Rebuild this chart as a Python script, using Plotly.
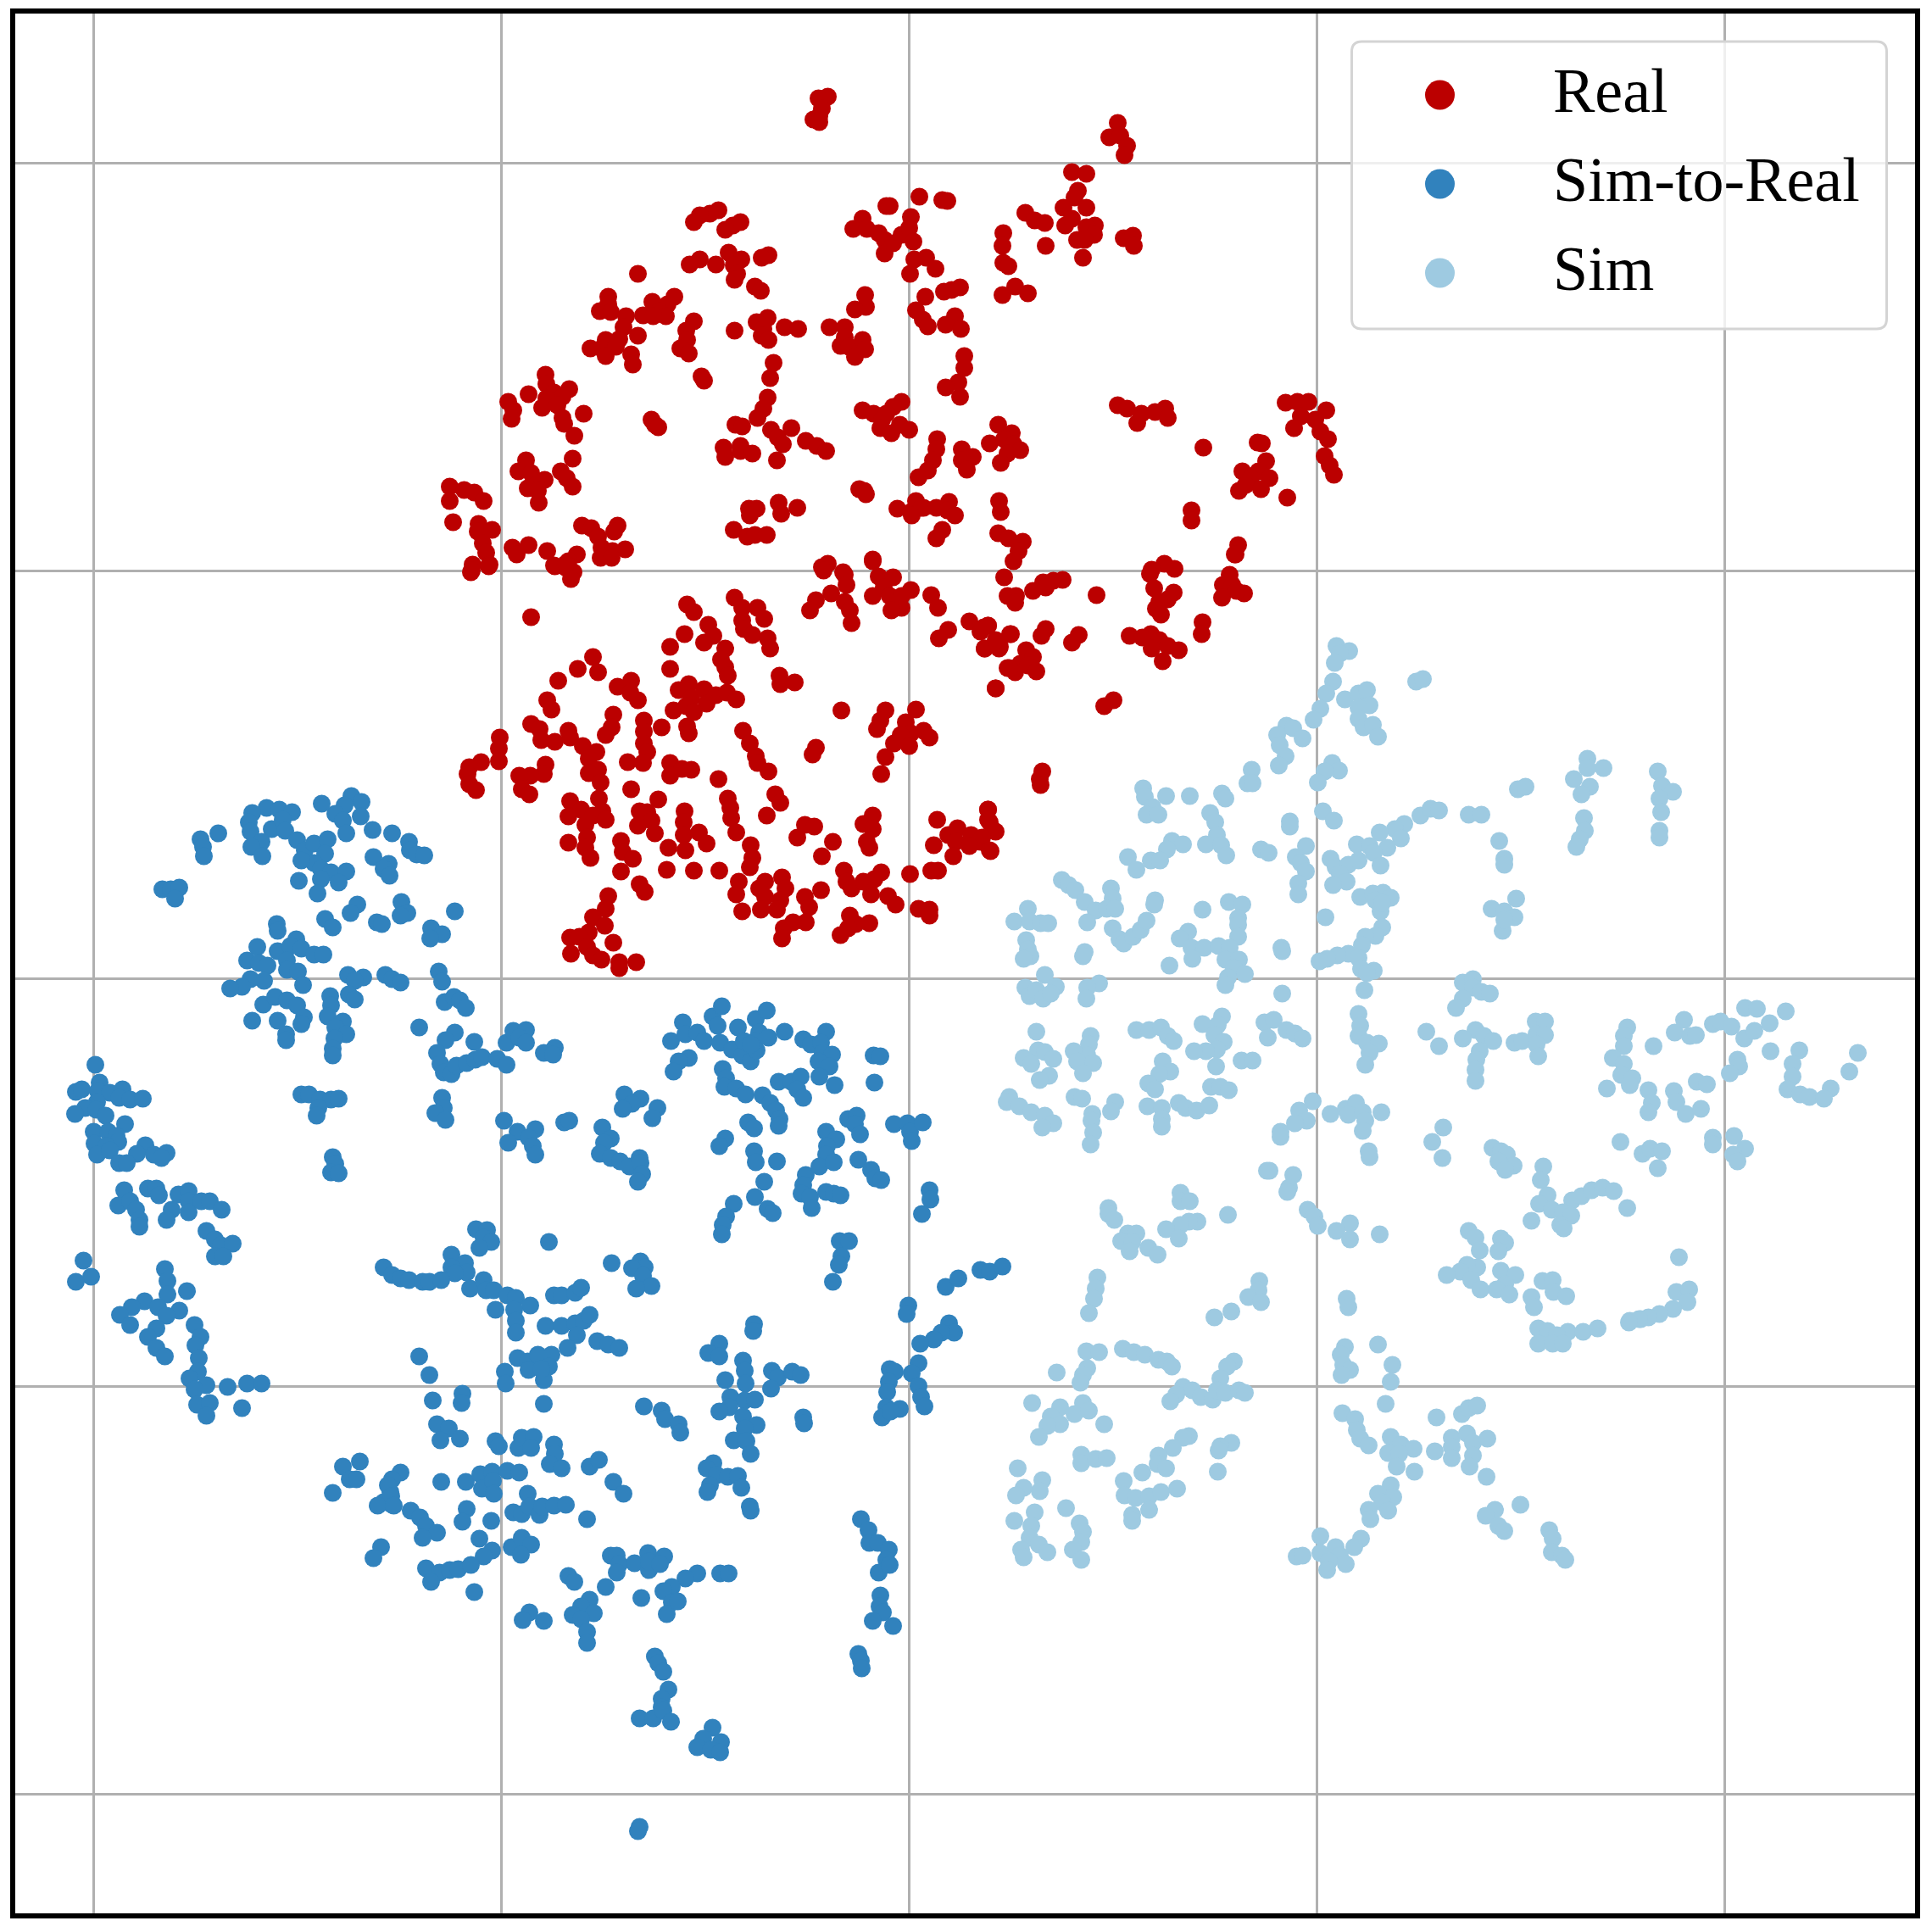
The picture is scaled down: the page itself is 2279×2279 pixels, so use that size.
import plotly.graph_objects as go

# embedding coordinates, grid step is 481 units
real_points = [
    (-96,1040),(-107,1038),(-103,1026),(-106,1017),(-113,1013),(-106,1010),
    (-225,906),(-235,902),(-247,900),(-254,892),(-199,892),(-208,888),(-217,883),(-247,848),(-259,842),
    (-213,856),(-198,848),(-228,842),(-207,841),(-203,831),(-206,824),(-166,853),(-174,850),(-182,816),(-175,811),(-320,831),
    (-355,804),(-355,795),(-365,787),(-352,786),(-303,798),(-277,804),(-285,795),(-295,787),(-287,781),(-314,782),(-302,781),
    (-334,781),(-337,768),(-342,754),(-320,758),(-358,753),(-376,743),(-363,743),(-346,745),(-358,734),(-328,736),(-326,724),
    (-254,775),(-263,764),(-262,753),(-270,743),(-260,737),(-245,710),(-242,705),(-206,764),(-167,779),(-180,774),(-172,766),
    (-174,758),(-166,753),(-147,768),(-131,766),(-160,726),(-164,708),(-167,685),(-172,672),(-179,661),(-205,653),(-197,651),
    (-199,628),(-219,626),(-217,615),(-199,622),(-185,619),(-163,647),(-155,638),(-149,630),(-139,649),(-122,634),(-109,628),
    (-98,622),(-156,611),(-94,768),(-76,768),(-76,756),(-81,746),(-71,745),(-64,733),(-55,753),(-52,742),(-52,806),(-51,792),
    (-64,789),(-27,911),(-23,911),(-55,896),(-66,884),(-50,884),(-36,879),(-29,871),(-29,855),(-19,867),(-9,877),(2,898),
    (0,885),(5,869),(12,922),(39,918),(45,917),(6,848),(1,831),(20,850),(31,837),(19,804),(41,810),(60,815),(50,812),(8,788),
    (16,777),(22,769),(54,781),(43,771),(61,766),(65,734),(65,720),(58,703),(43,697),(60,686),(111,879),(110,864),(111,844),
    (117,840),(110,806),(125,816),(140,808),(137,903),(148,894),(160,891),(161,864),(192,951),(209,949),(199,929),(195,921),
    (182,909),(209,909),(184,888),(192,896),(219,888),(209,886),(218,877),(198,871),(207,871),(205,850),(253,873),(264,876),
    (265,864),(246,1009),(236,992),(249,994),(257,982),(254,971),
    (-429,712),(-428,701),(-449,689),(-401,695),(-419,691),(-409,686),(-428,684),(-433,673),(-415,676),(-473,680),(-467,670),
    (-469,660),(-384,666),(-409,661),(-407,654),(-395,640),(-452,611),(-461,598),(-446,596),(-430,588),(-440,582),(-450,578),
    (-438,575),(-437,561),(-397,613),(-411,598),(-404,590),(-397,580),(-542,580),(-542,563),(-525,576),(-513,573),(-502,563),
    (-538,538),(-508,536),(-509,527),(-492,529),(-503,513),(-499,502),(-515,488),(-517,479),(-495,488),(-468,508),(-463,500),
    (-449,511),(-427,504),(-392,500),(-402,492),(-419,487),(-406,485),(-396,479),(-386,534),(-375,531),(-367,521),(-344,534),
    (-348,527),(-363,508),(-335,506),(-350,504),(-364,496),(-351,496),(-189,554),(-180,554),(-188,546),(-154,561),(-132,555),
    (-151,548),(-207,529),(-191,521),(-182,523),(-168,523),(-103,485),(-78,479),(-96,489),(-516,481),(-496,486),(-418,486),
    (-399,471),(-405,489),(-300,653),(-304,659),(-296,650),
    (-55,670),(-42,666),(-32,659),(-9,680),(-19,674),(-27,666),(-34,649),(-21,643),(-11,653),(0,647),(-53,575),(-59,577),(-51,571),
    (-14,554),(2,550),(8,563),(17,555),(14,555),(3,546),(32,555),(47,562),(45,552),(54,546),(39,529),(32,519),(-43,494),
    (33,636),(32,624),(28,611),(22,599),(11,591),(62,624),(75,615),(62,611),(68,600),(105,653),(121,643),(95,631),(112,636),
    (123,630),(131,623),(116,619),(108,608),(106,563),(108,550),(105,525),(117,519),(134,515),(129,504),(123,492),
    (246,676),(257,672),(269,655),(274,666),(290,668),(302,672),(305,661),(347,626),(411,632),(416,631),(421,610),(412,598),
    (393,598),(403,590),(425,590),(389,575),(397,582),(415,577),(446,567),(333,552),(333,540),(444,679),(458,680),(471,680),
    (492,670),(462,663),(454,649),(479,659),(485,645),(494,636),(490,616),(496,605),(501,594),(388,511),(385,500),
    (112,473),(116,451),(126,451),(125,443),(146,457),(158,467),(170,469),(181,470),(161,461),(221,452),(313,483),(301,489),
    (286,482),(284,477),(289,460),(312,455),(305,447),(295,444),(291,436),(297,429),(384,500),(378,476),(370,464),(381,464),
    (369,449),(395,454),(386,457),(346,420),(345,406),(88,414),(93,416),(120,406),(105,397),(106,389),(89,389),(161,412),
    (156,404),(200,405),(192,396),(260,404),(285,406),(275,402),(295,399),(286,389),(305,392),(318,387),(299,374),(138,387),
    (146,379),(131,371),(116,366),(125,361),(140,369),(150,362),(102,342),(241,328),(230,321),(157,244),(154,235),(155,228),
    (93,199),(95,184),(100,174),(84,161),(96,150),
    (-446,426),(-262,441),(-254,432),(-206,449),(-197,437),(-197,422),(-195,412),(-185,405),(-179,437),(-171,424),(-237,417),
    (-231,404),(-242,396),(-265,406),(-282,391),(-217,389),(-222,376),(-217,367),(-214,357),(-167,401),(-164,389),(-282,365),
    (-373,379),(-391,365),(-367,361),(-414,351),(-344,344),(-328,351),(-329,337),(-320,328),(-427,328),(-422,317),(-446,300),
    (-436,294),(-434,281),(-418,279),(-402,292),(-400,284),(-385,274),(-369,267),(-378,259),(-349,311),(-351,296),(-358,287),
    (-313,304),(-313,291),(-313,277),(-309,267),(-314,254),(-332,255),(-292,296),(-260,347),(-272,340),(-257,331),(-242,341),
    (-239,324),(-263,321),(-278,316),(-254,314),(-228,334),(-215,337),(-204,329),(-262,297),(-260,289),(-196,292),(-188,277),
    (-181,262),(-179,254),(-166,244),(-153,357),(-152,347),(-135,349),(-80,316),(-28,316),(-34,304),(-38,294),(8,317),(-4,302),
    (2,289),(-18,277),(-10,287),(0,274),(17,292),(24,284),(-110,272),(-114,264),(-28,261),(-33,241),(-483,284),(-484,271),
    (-484,256),(-505,255),(-519,249),(-521,241),(-519,229),(-511,222),(-429,252),(-431,241),(-447,239),(-460,239),(-457,223),
    (-448,217),(-367,246),(-378,242),(-364,231),(-366,212),(-282,254),(-282,239),(-268,247),(-257,246),(-225,235),(-328,223),
    (-400,209),(-387,199),(-402,191),(-382,181),(-373,192),(-362,197),(-358,187),(-380,166),(-402,160),(-382,154),(-376,142),
    (-296,211),(-309,196),(-318,197),(-304,186),(-320,180),(-300,171),(-265,197),(-266,184),(-266,169),(-248,172),(-239,159),
    (-264,151),(-284,154),(-214,212),(-211,201),(-210,189),(-204,172),(-158,217),(-152,207),(-168,192),(-340,162),(-338,149),
    (-326,141),(-340,126),(-286,128),(-254,127),(-224,127),(-187,157),(-185,142),(-188,131),(-318,111),(-312,102),(-123,181),
    (-112,179),(-132,166),(-90,161),(-103,144),(-54,182),(-43,192),(-43,176),(-50,161),(-47,154),(-201,114),(-204,99),(-197,79),
    (-170,114),(-177,106),(-170,96),(-175,81),(-150,119),(-146,106),(-152,92),(-156,81),(-104,104),(-123,96),(-118,84),(-122,66),
    (-137,66),(-148,59),(-150,47),(-77,127),(-74,114),(-68,106),(-45,99),(-54,114),(-41,117),(-33,125),(-25,97),(-16,87),(1,123),
    (26,127),(34,127),(11,82),(24,81),(24,74),(-70,74),(-47,65),(-63,64),(-72,59),(-81,51),(93,199),(93,187),(102,173),(33,187),
    (29,157),(46,169),(57,177),(55,161),(52,144),(73,169),(86,166),(71,156),(95,151),
    (-355,97),(-358,82),(-373,72),(-359,62),(-378,54),(-400,48),(-389,49),(-349,42),(-380,37),(-399,29),(-373,27),(-363,22),
    (-342,19),(-342,12),(-322,19),
    (-101,481),(-76,476),(-74,464),(-92,454),(-110,446),(-117,434),(-76,444),(-70,434),(-68,419),(-36,474),(-19,473),(-43,451),
    (-30,461),(-23,451),(2,458),(-9,437),(-21,434),(-9,451),(-43,492),(26,452),(34,437),(46,411),(35,401),(71,421),(84,409),
    (93,416),(89,389),(107,391),(102,399),(119,406),(118,366),(102,342),
]

sim_to_real_points = [
    (-658,215),(-646,208),(-666,204),(-677,194),(-668,186),(-647,191),(-664,171),(-693,206),(-633,175),(-610,171),(-590,161),
    (-589,151),(-581,146),(-572,145),(-632,143),(-614,135),(-620,129),(-613,121),(-758,201),(-743,199),(-728,196),(-775,195),
    (-779,184),(-777,173),(-752,176),(-739,187),(-736,174),(-722,163),(-713,151),(-702,159),(-686,164),(-689,147),(-702,136),
    (-717,139),(-694,129),(-682,125),(-664,126),(-673,113),(-694,117),(-698,100),(-720,115),(-764,161),(-776,155),(-763,144),
    (-815,171),(-836,164),(-833,155),(-832,144),(-881,105),(-871,105),(-861,107),(-866,94),(-651,87),(-659,77),(-689,70),(-680,60),
    (-599,90),(-592,77),(-600,74),(-628,66),(-622,64),(-536,79),(-564,59),(-551,52),(-565,47),(-746,64),(-745,56),(-769,37),
    (-723,46),(-745,32),(-730,38),(-717,35),(-702,28),(-691,28),(-734,21),(-781,21),(-767,18),(-757,15),(-734,10),(-721,8),
    (-662,4),(-644,1),(-654,-3),(-618,4),(-610,-1),(-600,-5),(-555,8),(-551,-4),(-761,-3),(-777,-1),(-787,-10),(-801,-12),(-715,-8),
    (-661,-19),(-654,-25),(-683,-21),(-682,-32),(-762,-31),(-748,-22),(-734,-26),(-722,-32),(-714,-46),(-717,-54),(-686,-45),
    (-668,-51),(-677,-58),(-664,-66),(-678,-71),(-680,-83),(-680,-91),(-775,-50),(-745,-50),(-735,-66),(-735,-73),(-578,-58),
    (-548,-28),(-537,-22),(-530,-26),(-523,-35),(-536,-64),(-547,-73),(-557,-88),(-553,-101),(-549,-111),(-540,-113),(-534,-103),
    (-522,-100),(-512,-96),(-504,-93),(-513,-75),(-486,-95),(-475,-102),(-475,-76),(-467,-62),(-452,-61),(-460,-70),(-452,-76),
    (-431,-88),(-418,-82),(-420,-90),(-717,-137),(-708,-137),(-695,-143),(-682,-143),(-673,-142),(-697,-153),(-699,-162),
    (-680,-211),(-677,-219),(-682,-229),(-673,-230),(-551,-141),(-549,-153),(-559,-159),(-547,-167),
    (-960,-102),(-955,-123),(-983,-134),(-976,-131),(-957,-133),(-943,-135),(-928,-131),(-932,-141),(-919,-143),(-904,-142),
    (-958,-146),(-972,-153),(-984,-160),(-959,-155),(-948,-162),(-962,-181),(-945,-181),(-925,-172),(-935,-186),(-933,-193),
    (-961,-195),(-947,-198),(-958,-208),(-943,-203),(-901,-197),(-911,-207),(-891,-208),(-876,-206),(-882,-212),(-932,-218),
    (-923,-218),(-926,-250),(-898,-248),(-888,-248),(-885,-256),(-933,-268),(-919,-263),(-912,-273),(-908,-285),(-908,-293),
    (-870,-273),(-876,-285),(-862,-255),(-850,-251),(-850,-263),(-850,-276),(-835,-263),(-825,-263),(-811,-273),(-829,-298),
    (-819,-308),(-812,-315),(-798,-313),(-819,-328),(-809,-328),(-974,-333),(-965,-352),(-983,-358),(-878,-343),(-875,-357),
    (-852,-369),(-875,-373),(-902,-381),(-917,-388),(-886,-388),(-861,-392),(-876,-398),(-931,-397),(-919,-409),(-888,-413),
    (-898,-423),(-888,-436),(-878,-446),(-843,-409),(-836,-423),(-842,-433),(-838,-448),(-839,-464),(-849,-472),(-829,-480),
    (-843,-485),(-804,-482),(-781,-478),(-764,-478),(-787,-507),(-840,-503),(-825,-501),(-829,-516),
    (-478,-168),(-462,-181),(-473,-194),(-441,-178),(-449,-188),(-444,-198),(-441,-208),(-407,-170),(-401,-168),(-336,-137),
    (-317,-142),(-327,-148),(-338,-154),(-297,-153),(-303,-165),(-362,-176),(-352,-189),(-360,-194),(-365,-207),(-352,-212),
    (-341,-216),(-330,-222),(-318,-212),(-317,-218),(-315,-231),(-320,-240),(-281,-74),(-267,-52),(-264,-66),(-250,-64),(-242,-74),
    (-232,-45),(-221,-33),(-226,-56),(-223,-76),(-209,-84),(-202,-58),(-197,-91),(-195,-74),(-187,-98),(-180,-85),(-181,-48),
    (-168,-38),(-177,-64),(-182,-74),(-166,-70),(-147,-63),(-187,-78),(-260,-94),(-272,-98),(-278,-110),(-125,-72),(-116,-78),
    (-98,-63),(-104,-76),(-102,-88),(-91,-90),(-107,-98),(-94,-104),(-106,-116),(-88,-126),(-42,-91),(-34,-92),(-41,-123),(-220,-107),
    (-216,-118),(-218,-128),(-204,-130),(-193,-137),(-154,-122),(-139,-122),(-128,-116),(-132,-131),(-125,-141),(-173,-138),
    (-164,-147),(-157,-156),(-153,-166),(-154,-174),(-190,-170),(-183,-177),(-217,-189),(-224,-198),(-183,-204),(-181,-217),
    (-156,-216),(-171,-240),(-182,-258),(-167,-272),(-161,-277),(-207,-266),(-216,-281),(-220,-291),(-221,-302),(-122,-232),
    (-125,-244),(-127,-254),(-117,-258),(-115,-271),(-98,-252),(-89,-254),(-81,-256),(-72,-166),(-62,-162),(-64,-172),(-58,-184),
    (-98,-181),(-86,-190),(-97,-198),(-98,-208),(-106,-222),(-89,-217),(-60,-214),(-45,-226),(-40,-236),(-33,-238),(-18,-172),
    (-2,-171),(1,-181),(3,-192),(16,-170),(24,-250),(25,-261),(15,-278),
    (-511,-296),(-498,-297),(-502,-306),(-493,-311),(-507,-318),(-425,-311),(-540,-326),(-524,-336),(-540,-341),(-522,-347),
    (-536,-348),(-620,-341),(-610,-350),(-600,-354),(-590,-356),(-574,-358),(-566,-358),(-552,-356),(-518,-366),(-502,-356),
    (-499,-368),(-490,-368),(-474,-374),(-488,-391),(-464,-377),(-447,-386),(-466,-391),(-464,-404),(-464,-418),(-419,-374),
    (-410,-374),(-394,-371),(-387,-365),(-429,-410),(-410,-410),(-394,-407),(-384,-404),(-377,-397),(-392,-421),(-403,-436),
    (-368,-428),(-355,-432),(-342,-436),(-462,-448),(-450,-452),(-449,-462),(-438,-444),(-422,-444),(-425,-458),(-431,-474),
    (-434,-461),(-477,-464),(-476,-478),(-431,-502),(-578,-446),(-566,-468),(-562,-498),(-527,-490),(-528,-501),(-557,-526),
    (-543,-531),(-553,-545),(-530,-543),(-488,-546),(-484,-552),(-461,-554),(-457,-542),(-443,-541),(-446,-554),(-419,-550),
    (-418,-561),(-424,-573),(-410,-578),(-600,-583),(-610,-591),(-612,-606),(-610,-621),(-620,-618),(-552,-594),(-523,-594),
    (-506,-585),(-492,-582),(-504,-602),(-491,-593),(-490,-608),(-474,-581),(-460,-583),(-450,-608),(-467,-630),(-457,-632),
    (-448,-623),(-436,-633),(-433,-623),(-419,-622),(-405,-621),(-380,-638),(-522,-626),(-527,-641),(-493,-640),(-588,-628),
    (-577,-636),(-570,-646),(-557,-654),(-574,-660),(-507,-661),(-492,-675),(-502,-682),(-469,-671),(-457,-660),(-446,-668),
    (-458,-680),(-570,-696),(-554,-701),(-564,-712),(-542,-698),(-532,-697),(-517,-692),(-513,-724),
    (-351,-336),(-317,-334),(-312,-341),(-327,-342),(-314,-351),(-304,-363),(-322,-366),(-183,-408),(-184,-416),(-224,-431),
    (-237,-442),(-224,-446),(-196,-451),(-194,-463),(-193,-478),(-217,-474),(-162,-463),(-155,-471),(-163,-484),(-138,-464),
    (-128,-468),(-211,-494),(-194,-498),(-182,-497),(-212,-506),(-224,-511),(-196,-517),(-180,-527),(-194,-531),(-207,-545),
    (-192,-546),(-187,-561),(-125,-518),(-124,-525),(-313,-505),(-292,-510),(-288,-520),(-272,-526),(-270,-536),(-377,-576),
    (-366,-568),(-349,-594),(-337,-608),(-231,-572),(-239,-578),(-227,-586),(-214,-588),(-202,-587),(-198,-601),(-235,-598),
    (-238,-606),(-188,-623),(-187,-628),(-82,-310),(-71,-310),(-80,-328),(-83,-338),(-90,-358),(-1,-386),(-3,-396),(43,-364),
    (58,-354),(84,-344),(95,-346),(110,-340),(47,-407),(53,-418),(38,-418),(29,-426),(13,-431),(11,-454),(3,-466),(11,-481),
    (14,-494),(18,-505),(-23,-461),(-17,-464),(-24,-476),(-26,-488),(-27,-506),(-11,-508),(-32,-518),(-22,-511),(-57,-638),
    (-48,-651),(-47,-666),(-37,-666),(-24,-674),(-27,-686),(-36,-701),(-23,-692),(-34,-728),(-35,-741),(-31,-748),(-43,-758),(-19,-764),
    (-352,-681),(-345,-681),(-342,-691),(-345,-701),(-324,-690),(-308,-678),(-307,-698),(-307,-688),(-289,-682),(-294,-691),
    (-250,-702),(-223,-702),(-213,-702),(-264,-708),(-280,-718),(-290,-723),(-280,-736),(-286,-750),(-273,-735),(-316,-731),
    (-358,-718),(-402,-705),(-395,-712),(-377,-733),(-387,-741),(-397,-751),(-372,-749),(-387,-756),(-448,-748),(-456,-757),
    (-431,-758),(-380,-771),(-380,-784),(-60,-797),(-57,-805),(-56,-814),(-300,-800),(-296,-808),(-290,-818),(-284,-839),(-292,-850),
    (-292,-860),(-318,-873),(-302,-873),(-290,-864),(-281,-877),(-232,-884),(-222,-901),(-243,-897),(-250,-907),(-234,-910),
    (-223,-913),(-318,-1001),(-320,-1006),(-648,-570),(-668,-576),(-660,-591),(-652,-591),(-680,-607),(-615,-598),(-611,-611),
    (-627,-622),(-608,-622),(-623,-671),(-632,-684),
]

sim_points = [
    (504,392),(519,386),(508,383),(502,372),(500,350),(492,336),(485,318),(477,305),(514,329),(530,336),(540,340),(543,322),
    (530,319),(530,306),(536,296),(547,299),(553,285),(598,350),(606,353),(445,298),(453,295),(434,287),(437,275),(464,283),
    (444,262),(436,251),(499,254),(507,245),(490,244),(482,231),(404,246),(399,230),(405,230),(276,224),(278,214),(303,215),
    (331,215),(369,218),(373,212),(287,202),(280,193),(294,193),(355,195),(361,184),(363,169),(350,158),(368,157),(374,145),
    (449,185),(449,179),(488,197),(501,186),(603,192),(615,200),(625,198),(584,182),(573,176),(580,165),(555,172),(528,158),
    (543,156),(564,154),(548,148),(556,133),(310,162),(323,158),(304,152),(258,143),(268,128),(285,139),(296,139),(415,152),
    (424,148),(468,156),(456,143),(462,136),(468,126),(459,112),(459,99),(497,141),(503,131),(518,134),(530,139),(508,123),
    (516,114),(500,110),(532,96),(547,100),(559,101),(568,95),(550,92),(556,79),(558,89),(491,72),(180,116),(188,110),(196,104),
    (238,106),(240,94),(207,90),(220,80),(233,82),(243,82),(210,66),(290,92),(289,87),(346,81),(377,90),(393,87),(388,71),(388,63),
    (388,49),(140,82),(124,67),(142,67),(155,65),(164,65),(138,45),(140,34),(143,26),(135,23),(207,31),(205,26),(240,59),(248,46),
    (253,41),(264,49),(273,57),(280,68),(329,55),(319,47),(333,36),(348,36),(365,38),(378,36),(334,23),(307,15),(373,22),(389,22),
    (383,12),(396,5),(376,1),(373,-8),(439,36),(440,32),(558,60),(550,50),(538,49),(534,39),(518,29),(505,27),(493,23),(484,20),
    (530,24),(533,11),(548,9),(540,6),(537,-14),(160,4),(173,-10),(137,-11),(142,-21),(150,-14),(158,-24),(167,-18),(224,-6),
    (210,-11),(209,-24),(440,-18),(150,-63),(268,-61),(283,-61),(297,-58),(305,-68),(312,-74),(369,-45),(364,-55),(346,-54),
    (360,-67),(371,-75),(363,-84),(350,-86),(336,-86),(419,-52),(430,-49),(423,-70),(445,-61),(455,-65),(464,-71),(530,-42),
    (532,-56),(530,-68),(540,-76),(554,-77),(543,-88),(538,-102),(214,-68),(212,-78),(210,-91),(194,-86),(198,-98),(217,-100),
    (205,-112),(152,-85),(135,-94),(144,-101),(160,-87),(170,-95),(165,-115),(154,-120),(392,-97),(405,-97),(362,-104),(299,-98),
    (308,-110),(295,-113),(282,-124),(290,-131),(356,-128),(367,-128),(377,-132),(118,-140),(115,-146),(130,-151),(144,-158),
    (160,-162),(170,-171),(157,-176),(195,-140),(204,-142),(243,-146),(238,-157),(216,-160),(215,-168),(217,-182),(214,-196),
    (281,-151),(298,-153),(298,-166),(298,-175),(318,-147),(326,-153),(339,-156),(354,-150),(476,-145),(460,-156),(469,-168),
    (455,-171),(438,-181),(438,-187),(497,-160),(515,-154),(527,-147),(518,-161),(535,-158),(557,-158),(538,-168),(535,-180),
    (542,-204),(543,-211),(630,-176),(617,-193),(629,-212),(610,-63),(625,-80),(653,-5),(665,-1),(665,-11),(653,-24),(645,-35),
    (675,-16),(685,-18),(668,-61),(653,-71),(678,-68),(689,-74),(673,-86),(669,-96),(668,-108),(668,-121),(714,-76),(723,-74),
    (739,-51),(750,-51),(740,-66),(750,-67),(740,-78),(742,-92),(696,162),(702,141),(702,134),(660,193),(675,193),(718,223),
    (727,226),(800,259),(800,248),(819,248),(784,235),(803,226),(793,217),(796,189),(797,174),(791,164),(787,155),(716,94),
    (687,82),(702,79),(714,72),(700,56),(702,69),(688,-200),(698,-204),(705,-208),(695,-216),(713,-221),(703,-226),(748,-222),
    (745,-238),(753,-256),(743,-266),(782,-262),(793,-257),(805,-250),(818,-247),(831,-251),(847,-271),(758,-273),(771,-276),
    (781,-280),(734,-286),(768,-291),(772,-295),(839,-193),(847,-58),(843,-68),(843,-80),(830,-94),(843,-101),(840,-114),(853,-118),
    (823,-130),(850,-126),
    (422,-227),(425,-227),(453,-232),(448,-247),(446,-252),(320,-253),(320,-263),(331,-263),(235,-271),(235,-278),(242,-285),
    (376,-279),(470,-273),(478,-281),(482,-292),(520,-289),(504,-298),(520,-308),(555,-302),(340,-287),(330,-287),(320,-291),
    (303,-296),(318,-307),(258,-301),(268,-301),(250,-310),(263,-311),(260,-322),(282,-318),(293,-326),(222,-353),(220,-366),
    (218,-378),(212,-395),(413,-357),(412,-368),(400,-376),(415,-382),(380,-393),(360,-400),(660,-298),(668,-306),(673,-321),
    (670,-341),(658,-338),(650,-346),(634,-350),(663,-356),(674,-367),(698,-307),(703,-312),(695,-322),(698,-345),(715,-350),
    (703,-361),(693,-367),(708,-373),(747,-357),(759,-356),(760,-370),(775,-375),(734,-376),(737,-388),(516,-378),(518,-388),
    (742,-413),(753,-416),(777,-417),(764,-421),(795,-417),(812,-413),(742,-431),(759,-431),(771,-431),(850,-404),(863,-402),
    (209,-440),(224,-441),(210,-460),(205,-468),(202,-477),(174,-465),(252,-437),(265,-441),(278,-444),(294,-450),(304,-452),
    (310,-458),(383,-452),(375,-458),(367,-472),(323,-482),(334,-486),(315,-491),(308,-499),(344,-494),(358,-497),(363,-486),
    (373,-489),(389,-486),(396,-489),(145,-501),(178,-506),(205,-501),(195,-514),(212,-510),(167,-517),(178,-526),(163,-528),
    (153,-541),(230,-526),(330,-540),(323,-542),(311,-554),(294,-563),(293,-573),(303,-578),(275,-583),(203,-562),(203,-572),
    (220,-567),(233,-566),(380,-548),(367,-552),(365,-557),(364,-582),(128,-578),(157,-592),(154,-605),(135,-601),(126,-610),
    (253,-593),(254,-610),(267,-613),(283,-611),(297,-606),(316,-602),(283,-627),(263,-633),(263,-640),(185,-625),(148,-630),
    (124,-640),(144,-646),(201,-643),(205,-653),(203,-665),(142,-660),(153,-668),(163,-677),(132,-674),(135,-683),(193,-674),(203,-686),
    (514,-435),(509,-444),(512,-456),(520,-462),(510,-468),(553,-432),(570,-456),(568,-476),(562,-502),(511,-513),(526,-520),
    (528,-533),(532,-543),(542,-551),(568,-541),(580,-550),(595,-555),(565,-560),(578,-561),(575,-576),(596,-582),(620,-558),
    (622,-518),(652,-514),(660,-507),(670,-504),(640,-542),(640,-553),(640,-566),(658,-537),(665,-548),(665,-563),(661,-576),
    (682,-543),(681,-588),(568,-598),(553,-608),(571,-612),(558,-618),(542,-627),(565,-628),(544,-638),(533,-661),(525,-671),
    (485,-658),(485,-678),(503,-671),(508,-681),(515,-691),(495,-688),(493,-698),(457,-682),(464,-681),(691,-627),(680,-634),
    (695,-646),(702,-652),(721,-621),(755,-651),(759,-661),(758,-677),(770,-681),(774,-686),
    (883,244),(888,227),(901,220),(885,212),(887,196),(885,174),(885,166),(878,-80),(872,-132),(902,-133),(905,-146),(876,-147),
    (872,-158),(916,-160),(934,-154),(929,-122),(941,-125),(903,-64),(914,-49),(921,-68),(928,-67),(948,-54),(957,-51),(970,-57),
    (985,-71),(997,-62),(986,-35),(1000,-36),(1015,-53),(1034,-39),(1016,-86),(977,-96),(979,-104),(968,-112),(1050,-85),(1042,-101),
    (1042,-116),(1036,-131),(1051,-137),(1062,-140),(1087,-130),(1079,-142),(1119,-88),(1109,-110),(948,-188),(948,-196),(973,-186),
    (986,-201),(972,-208),(977,-216),(865,-207),(874,-201),(888,-204),(883,-224),(908,-329),(905,-370),(920,-367),(918,-382),
    (901,-390),(885,-396),(872,-400),(861,-402),(849,-406),
]

series_names = ["Real", "Sim-to-Real", "Sim"]
series_colors = ["#bb0000", "#3182bd", "#9ecae1"]
series_points = [real_points, sim_to_real_points, sim_points]

fig = go.Figure()
for name, color, points in zip(series_names, series_colors, series_points):
    fig.add_trace(go.Scatter(x=[p[0] for p in points], y=[p[1] for p in points], mode="markers", name=name,
                             marker=dict(color=color, size=21, line=dict(width=0))))

# legend is drawn by hand, plotly caps legend markers well below this size
box_path = "M 534 1105 L 1141 1105 Q 1153 1105 1153 1093 L 1153 778 Q 1153 766 1141 766 L 534 766 Q 522 766 522 778 L 522 1093 Q 522 1105 534 1105 Z"
shapes = [dict(type="path", path=box_path, xref="x", yref="y", layer="above",
               fillcolor="rgba(255,255,255,0.8)", line=dict(color="#d4d4d4", width=3))]
annotations = []
for i, (name, color) in enumerate(zip(series_names, series_colors)):
    yc = 1042 - 105 * i
    shapes.append(dict(type="circle", xref="x", yref="y", layer="above", x0=608.5, x1=643.5, y0=yc - 17.5, y1=yc + 17.5,
                       fillcolor=color, line=dict(width=0)))
    annotations.append(dict(x=757, y=1047 - 105 * i, xref="x", yref="y", text=name, showarrow=False, xanchor="left",
                            yanchor="middle", font=dict(family="Liberation Serif", size=74, color="black")))

axis_style = dict(tick0=0, dtick=481, showticklabels=False, ticks="", showgrid=True, gridcolor="#b0b0b0", gridwidth=3,
                  zeroline=False, showline=True, linecolor="black", linewidth=6, mirror=True)

fig.update_layout(
    width=2271, height=2271,
    margin=dict(l=10, r=20, t=8, b=22, autoexpand=False),
    paper_bgcolor="white", plot_bgcolor="white",
    showlegend=False,
    shapes=shapes, annotations=annotations,
    xaxis=dict(range=[-1054.5, 1186.5], **axis_style),
    yaxis=dict(range=[-1103, 1138], **axis_style),
)

fig.write_html("out.html")
